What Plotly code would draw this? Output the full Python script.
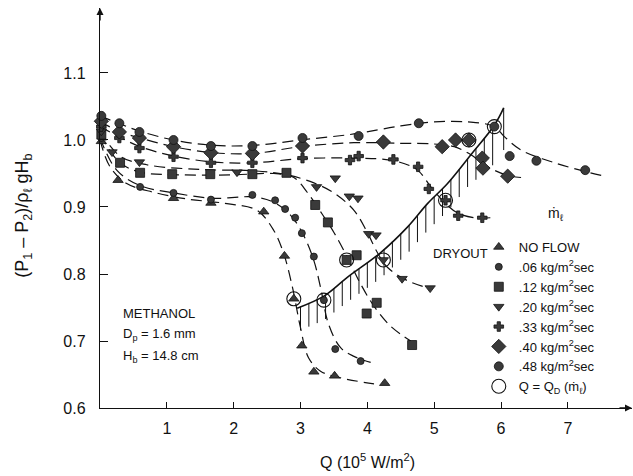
import numpy as np
import plotly.graph_objects as go

# ---- measured data: Q (1e5 W/m^2) vs normalised pressure drop ----
nf_q = [0.02, 0.27, 1.10, 1.66, 2.45, 2.76, 2.90, 3.02, 3.20, 3.51, 4.26]
nf_v = [0.998, 0.940, 0.913, 0.906, 0.893, 0.827, 0.763, 0.693, 0.654, 0.648, 0.637]
m06_q = [0.02, 0.60, 1.10, 1.66, 2.28, 2.62, 2.77, 2.92, 3.02, 3.20, 3.35, 3.52, 3.90]
m06_v = [1.003, 0.930, 0.921, 0.911, 0.918, 0.910, 0.897, 0.884, 0.861, 0.826, 0.761, 0.688, 0.670]
m12_q = [0.02, 0.30, 0.60, 1.08, 1.65, 2.28, 2.79, 3.22, 3.41, 3.69, 3.84, 3.99, 4.14, 4.67]
m12_v = [1.008, 0.966, 0.951, 0.949, 0.949, 0.949, 0.951, 0.903, 0.877, 0.821, 0.828, 0.741, 0.757, 0.694]
m20_q = [0.02, 0.18, 0.59, 2.05, 3.24, 3.52, 3.73, 3.86, 4.02, 4.13, 4.24, 4.52, 4.94]
m20_v = [1.013, 0.982, 0.967, 0.952, 0.930, 0.943, 0.916, 0.913, 0.860, 0.858, 0.821, 0.793, 0.779]
m33_q = [0.02, 0.29, 0.59, 1.10, 1.66, 2.28, 3.03, 3.74, 3.87, 4.39, 4.76, 4.92, 5.17, 5.36, 5.72]
m33_v = [1.020, 1.003, 0.988, 0.975, 0.966, 0.966, 0.973, 0.970, 0.976, 0.971, 0.960, 0.927, 0.910, 0.887, 0.884]
m40_q = [0.02, 0.29, 0.59, 1.10, 1.66, 2.28, 3.03, 4.24, 5.12, 5.32, 5.52, 5.72, 5.73, 6.10]
m40_v = [1.028, 1.012, 1.003, 0.990, 0.981, 0.980, 0.991, 0.997, 0.990, 1.000, 1.000, 0.973, 0.958, 0.946]
m48_q = [0.02, 0.29, 0.59, 1.10, 1.66, 2.28, 3.03, 3.87, 4.77, 5.90, 6.13, 6.53, 7.26]
m48_v = [1.036, 1.025, 1.012, 1.000, 0.991, 0.991, 1.003, 1.006, 1.025, 1.020, 0.976, 0.969, 0.955]

# ---- faired (dashed) curves through each data set ----
nf_cq = [0.0, 0.15, 0.4, 0.8, 1.3, 1.9, 2.35, 2.6, 2.75, 2.88, 3.0, 3.12, 3.3, 3.6, 4.1]
nf_cv = [1.0, 0.96, 0.935, 0.922, 0.912, 0.905, 0.895, 0.865, 0.83, 0.78, 0.72, 0.675, 0.655, 0.645, 0.636]
m06_cq = [0.0, 0.25, 0.6, 1.1, 1.7, 2.3, 2.6, 2.85, 3.05, 3.2, 3.3, 3.42, 3.6, 3.8, 4.05]
m06_cv = [1.003, 0.955, 0.932, 0.921, 0.913, 0.915, 0.907, 0.888, 0.857, 0.82, 0.78, 0.725, 0.69, 0.677, 0.668]
m12_cq = [0.0, 0.3, 0.6, 1.2, 2.0, 2.6, 2.9, 3.1, 3.3, 3.5, 3.7, 3.9, 4.1, 4.35, 4.65]
m12_cv = [1.008, 0.966, 0.952, 0.948, 0.948, 0.95, 0.944, 0.922, 0.893, 0.862, 0.825, 0.785, 0.752, 0.722, 0.70]
m20_cq = [0.0, 0.3, 0.7, 1.5, 2.3, 2.8, 3.2, 3.5, 3.8, 4.0, 4.15, 4.3, 4.6, 4.95]
m20_cv = [1.013, 0.976, 0.963, 0.956, 0.954, 0.948, 0.936, 0.921, 0.895, 0.862, 0.832, 0.81, 0.79, 0.778]
m33_cq = [0.0, 0.3, 0.6, 1.1, 1.7, 2.3, 3.0, 3.8, 4.4, 4.75, 4.95, 5.15, 5.35, 5.6, 5.85]
m33_cv = [1.02, 1.004, 0.99, 0.976, 0.967, 0.966, 0.972, 0.973, 0.969, 0.955, 0.93, 0.907, 0.891, 0.884, 0.884]
m40_cq = [0.0, 0.3, 0.6, 1.1, 1.7, 2.3, 3.0, 3.8, 4.5, 5.0, 5.3, 5.55, 5.8, 6.1, 6.3]
m40_cv = [1.028, 1.012, 1.003, 0.99, 0.981, 0.98, 0.99, 0.996, 0.995, 0.994, 0.99, 0.978, 0.96, 0.947, 0.944]
m48_cq = [0.0, 0.3, 0.6, 1.1, 1.7, 2.3, 3.0, 3.8, 4.5, 5.0, 5.5, 5.9, 6.05, 6.3, 6.8, 7.3, 7.55]
m48_cv = [1.036, 1.024, 1.013, 1.0, 0.992, 0.992, 1.0, 1.009, 1.021, 1.027, 1.027, 1.02, 1.005, 0.985, 0.966, 0.952, 0.946]

# ---- dryout points Q = Q_D and dryout boundary ----
qd_q = [2.90, 3.35, 3.69, 4.24, 5.17, 5.52, 5.90]
qd_v = [0.763, 0.761, 0.821, 0.821, 0.910, 1.000, 1.020]
dry_q = [2.95, 3.35, 3.7, 4.2, 4.6, 4.9, 5.2, 5.55, 5.9, 6.04]
dry_v = [0.749, 0.767, 0.795, 0.832, 0.87, 0.905, 0.935, 0.978, 1.022, 1.048]

x_ticks = [1, 2, 3, 4, 5, 6, 7]
y_ticks = [0.6, 0.7, 0.8, 0.9, 1.0, 1.1]

FONT = "Arial, Liberation Sans, Helvetica, sans-serif"
INK = "#111111"
FILL = "#3a3a3a"
DASH = "11px,6px"

fig = go.Figure()

series = [
    ("NO FLOW", nf_q, nf_v, nf_cq, nf_cv, "triangle-up", 9),
    (".06 kg/m<sup>2</sup>sec", m06_q, m06_v, m06_cq, m06_cv, "circle", 7),
    (".12 kg/m<sup>2</sup>sec", m12_q, m12_v, m12_cq, m12_cv, "square", 9),
    (".20 kg/m<sup>2</sup>sec", m20_q, m20_v, m20_cq, m20_cv, "triangle-down", 9),
    (".33 kg/m<sup>2</sup>sec", m33_q, m33_v, m33_cq, m33_cv, "cross", 8),
    (".40 kg/m<sup>2</sup>sec", m40_q, m40_v, m40_cq, m40_cv, "diamond", 11),
    (".48 kg/m<sup>2</sup>sec", m48_q, m48_v, m48_cq, m48_cv, "circle", 9),
]

# dashed faired curves
for name, q, v, cq, cv, sym, size in series:
    fig.add_trace(go.Scatter(
        x=cq, y=cv, mode="lines", showlegend=False, hoverinfo="skip",
        line=dict(color=INK, width=1.2, dash=DASH, shape="spline", smoothing=1.0),
    ))

# dryout hatching below the boundary curve
hq = np.arange(3.0, 6.0, 0.125)
hv = np.interp(hq, dry_q, dry_v)
depth = np.interp(hq, [2.95, 5.5, 6.04], [0.035, 0.042, 0.063])
hx, hy = [], []
for q0, v0, d in zip(hq, hv, depth):
    hx += [q0, q0, None]
    hy += [v0, v0 - d, None]
hx += [dry_q[-1], dry_q[-1], None]
hy += [dry_v[-1], dry_v[-1] - 0.063, None]
fig.add_trace(go.Scatter(x=hx, y=hy, mode="lines", showlegend=False, hoverinfo="skip",
                         line=dict(color=INK, width=1)))

# dryout boundary
fig.add_trace(go.Scatter(x=dry_q, y=dry_v, mode="lines", showlegend=False, hoverinfo="skip",
                         line=dict(color=INK, width=1.6, shape="spline")))

# data markers
for name, q, v, cq, cv, sym, size in series:
    fig.add_trace(go.Scatter(
        x=q, y=v, mode="markers", name=name, cliponaxis=False,
        marker=dict(symbol=sym, size=size, color=FILL, line=dict(color=INK, width=0.8)),
    ))

# dryout circles
fig.add_trace(go.Scatter(
    x=qd_q, y=qd_v, mode="markers", name="Q = Q<sub>D</sub> (m\u0307<sub>\u2113</sub>)",
    cliponaxis=False,
    marker=dict(symbol="circle-open", size=14, color=INK, line=dict(color=INK, width=1.1)),
))

annotations = [
    dict(text="DRYOUT", x=5.4, y=0.83, xref="x", yref="y", showarrow=False,
         font=dict(size=13, color=INK, family=FONT)),
    dict(text="m\u0307<sub>\u2113</sub>", x=6.83, y=0.89, xref="x", yref="y", showarrow=False,
         font=dict(size=14, color=INK, family=FONT)),
    dict(text="METHANOL", x=0.32, y=0.741, xref="x", yref="y", showarrow=False, xanchor="left",
         font=dict(size=13, color=INK, family=FONT)),
    dict(text="D<sub>p</sub> = 1.6 mm", x=0.32, y=0.709, xref="x", yref="y", showarrow=False,
         xanchor="left", font=dict(size=13, color=INK, family=FONT)),
    dict(text="H<sub>b</sub> = 14.8 cm", x=0.32, y=0.677, xref="x", yref="y", showarrow=False,
         xanchor="left", font=dict(size=13, color=INK, family=FONT)),
    dict(text="(P<sub>1</sub> \u2013 P<sub>2</sub>)/\u03c1<sub>\u2113</sub> gH<sub>b</sub>",
         x=-0.145, y=0.48, xref="paper", yref="paper", xanchor="center", yanchor="middle",
         showarrow=False, textangle=-90,
         font=dict(size=18, color=INK, family=FONT)),
    dict(text="Q (10<sup>5</sup> W/m<sup>2</sup>)", x=0.502, y=-0.163, xref="paper", yref="paper",
         showarrow=False, font=dict(size=16, color=INK, family=FONT)),
    # axis arrowheads
    dict(x=1.0, y=0, xref="paper", yref="paper", ax=-14, ay=0, showarrow=True,
         arrowhead=2, arrowsize=1, arrowwidth=1.4, arrowcolor=INK, text=""),
    dict(x=0, y=1.0, xref="paper", yref="paper", ax=0, ay=14, showarrow=True,
         arrowhead=2, arrowsize=1, arrowwidth=1.4, arrowcolor=INK, text=""),
]

fig.update_layout(
    width=633, height=476,
    margin=dict(l=100, r=1, t=8, b=68),
    paper_bgcolor="white", plot_bgcolor="white",
    font=dict(family=FONT, color=INK),
    annotations=annotations,
    legend=dict(x=0.712, y=0.44, xanchor="left", yanchor="top", bgcolor="rgba(0,0,0,0)",
                font=dict(size=13, color=INK, family=FONT), itemwidth=30, tracegroupgap=0),
    xaxis=dict(range=[0, 7.96], tickvals=x_ticks, ticktext=[str(t) for t in x_ticks],
               showgrid=False, zeroline=False, showline=True, linecolor=INK, linewidth=1.4,
               ticks="inside", ticklen=6, tickcolor=INK, tickwidth=1.2, ticklabelstandoff=6,
               tickfont=dict(size=16, color=INK, family=FONT)),
    yaxis=dict(range=[0.6, 1.197], tickvals=y_ticks, ticktext=[f"{t:.1f}" for t in y_ticks],
               showgrid=False, zeroline=False, showline=True, linecolor=INK, linewidth=1.4,
               ticks="inside", ticklen=8, tickcolor=INK, tickwidth=1.2, ticklabelstandoff=10,
               tickfont=dict(size=16, color=INK, family=FONT)),
)

fig.write_html("out.html")
